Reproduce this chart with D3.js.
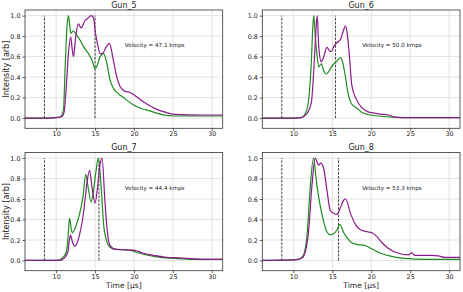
<!DOCTYPE html>
<html lang="en">
  <head>
    <meta charset="UTF-8">
    <script src="https://d3js.org/d3.v7.min.js"></script>
    <title>Gun intensity</title>
    <style>
      body { margin: 0; background: #fff; }
      svg { display: block; font-family: "DejaVu Sans", sans-serif; }
      .tick text { fill: #222; }
    </style>
  </head>
  <body>
    <svg id="chart" width="463" height="292"></svg>
    <script>
      // панели и подписи
      const guns = ["Gun_5", "Gun_6", "Gun_7", "Gun_8"];
      const velocities = ["47.1", "50.0", "44.4", "53.3"];
      const markers = [[8.5, 15.0], [8.5, 15.4], [8.5, 15.5], [8.5, 15.8]];
      const xTicks = [10, 15, 20, 25, 30];
      const yTicks = [0, 0.2, 0.4, 0.6, 0.8, 1.0];

      // [time, intensity]
      const gun5Green = [[6,0],[9,0],[10,0.005],[10.5,0.01],[10.94,0.08],[11.16,0.5],[11.4,0.9],[11.58,1.0],[11.75,0.9],[11.88,0.83],[12.2,0.85],[12.55,0.82],[13.08,0.76],[13.5,0.7],[14.15,0.63],[14.58,0.57],[15.0,0.486],[15.2,0.5],[15.65,0.6],[16.1,0.63],[16.5,0.54],[16.93,0.37],[17.36,0.29],[17.8,0.25],[18.65,0.2],[19.9,0.13],[21.2,0.086],[22.05,0.07],[23.0,0.045],[25.2,0.02],[28,0.02],[31.4,0.02]];
      const gun5Purple = [[6,0],[9,0],[10,0.005],[10.6,0.01],[11.0,0.05],[11.3,0.3],[11.6,0.65],[11.88,0.79],[12.05,0.68],[12.23,0.6],[12.5,0.78],[12.83,0.92],[13.21,0.88],[13.7,0.95],[14.15,0.98],[14.5,1.0],[14.8,0.98],[15.0,0.86],[15.3,0.73],[15.65,0.63],[15.95,0.63],[16.4,0.69],[16.85,0.73],[17.36,0.56],[17.8,0.4],[18.2,0.31],[18.85,0.26],[19.5,0.25],[20.3,0.21],[21.2,0.16],[22.05,0.12],[22.8,0.09],[23.9,0.06],[25.2,0.035],[28.6,0.03],[31.4,0.03]];
      const gun6Green = [[6,0],[10,0],[11,0.005],[11.5,0.04],[11.85,0.12],[12.1,0.3],[12.3,0.55],[12.5,0.9],[12.62,1.0],[12.8,0.8],[13.05,0.6],[13.25,0.5],[13.57,0.53],[13.85,0.47],[14.2,0.43],[14.5,0.45],[14.87,0.5],[15.5,0.55],[16.06,0.59],[16.3,0.55],[16.6,0.44],[17.0,0.25],[17.45,0.14],[18.1,0.1],[18.7,0.06],[19.6,0.035],[20.9,0.02],[22.6,0.01],[25,0.005],[31.4,0.005]];
      const gun6Purple = [[6,0],[10,0],[11,0.005],[11.7,0.04],[12.3,0.15],[12.6,0.45],[12.85,0.8],[13.05,1.0],[13.25,0.7],[13.57,0.55],[13.9,0.6],[14.3,0.69],[14.6,0.66],[14.87,0.65],[15.2,0.7],[15.5,0.73],[16.06,0.77],[16.4,0.85],[16.7,0.9],[16.95,0.8],[17.2,0.6],[17.5,0.32],[18.1,0.18],[18.7,0.11],[19.6,0.06],[20.2,0.05],[20.9,0.04],[22.2,0.03],[23.0,0.01],[25,0.005],[31.4,0.005]];
      const gun7Green = [[6,0],[10.2,0],[10.86,0.03],[11.3,0.08],[11.5,0.2],[11.72,0.41],[11.9,0.33],[12.07,0.27],[12.6,0.35],[13.0,0.45],[13.45,0.62],[13.8,0.84],[14.1,0.72],[14.5,0.57],[14.8,0.68],[15.1,0.86],[15.43,1.0],[15.8,0.7],[16.1,0.35],[16.45,0.2],[16.9,0.13],[17.5,0.11],[18.6,0.105],[19.5,0.1],[20.3,0.08],[21.6,0.055],[23.4,0.03],[25.1,0.02],[27.7,0.01],[31.4,0.01]];
      const gun7Purple = [[6,0],[10.3,0],[11.0,0.02],[11.5,0.08],[11.7,0.2],[11.85,0.25],[12.05,0.19],[12.4,0.14],[12.7,0.17],[13.0,0.25],[13.4,0.4],[13.7,0.58],[14.0,0.78],[14.3,0.88],[14.6,0.72],[15.0,0.56],[15.3,0.7],[15.6,0.92],[15.9,1.0],[16.25,0.6],[16.55,0.3],[16.9,0.15],[17.5,0.11],[18.6,0.105],[19.9,0.1],[20.3,0.095],[21.2,0.07],[22.5,0.05],[24.2,0.03],[25.9,0.025],[27.7,0.015],[29.8,0.01],[31.4,0.01]];
      const gun8Green = [[6,0],[10,0.005],[10.6,0.01],[11.2,0.04],[11.73,0.23],[12.16,0.72],[12.58,1.0],[13.0,0.74],[13.45,0.53],[13.88,0.38],[14.3,0.28],[14.73,0.25],[15.16,0.26],[15.6,0.3],[15.95,0.35],[16.47,0.27],[16.9,0.22],[17.55,0.17],[18.2,0.155],[19.05,0.15],[19.9,0.12],[21.2,0.07],[22.6,0.04],[24.3,0.02],[27,0.01],[31.4,0.01]];
      const gun8Purple = [[6,0],[10,0.005],[10.6,0.01],[11.2,0.03],[11.9,0.25],[12.4,0.75],[12.8,1.0],[13.23,0.93],[13.5,0.95],[13.88,0.9],[14.3,0.69],[14.73,0.49],[15.16,0.46],[15.6,0.45],[15.95,0.5],[16.47,0.59],[16.7,0.6],[17.33,0.46],[17.98,0.35],[18.6,0.3],[19.5,0.28],[20.1,0.27],[20.75,0.23],[21.3,0.18],[22.17,0.12],[23.5,0.07],[24.75,0.055],[25.2,0.075],[25.6,0.05],[27.8,0.05],[28.6,0.045],[29.5,0.03],[31.4,0.03]];

      const greens = [gun5Green, gun6Green, gun7Green, gun8Green];
      const purples = [gun5Purple, gun6Purple, gun7Purple, gun8Purple];

      const svg = d3.select("#chart");
      const cols = [[25, 222.7], [262.3, 460]];
      const rows = [[10, 128.3], [152.4, 270.7]];

      const drawPanel = (i) => {
        const [x0, x1] = cols[i % 2];
        const [y0, y1] = rows[Math.floor(i / 2)];
        const x = d3.scaleLinear().domain([6, 31.4]).range([x0, x1]);
        const y = d3.scaleLinear().domain([-0.1, 1.055]).range([y1, y0]);

        const g = svg.append("g");

        // сетка
        g.selectAll(".gx").data(xTicks).enter().append("line")
          .attr("x1", d => x(d)).attr("x2", d => x(d))
          .attr("y1", y0).attr("y2", y1)
          .attr("stroke", "#dcdcdc").attr("stroke-width", 0.8);
        g.selectAll(".gy").data(yTicks).enter().append("line")
          .attr("x1", x0).attr("x2", x1)
          .attr("y1", d => y(d)).attr("y2", d => y(d))
          .attr("stroke", "#dcdcdc").attr("stroke-width", 0.8);

        const clipId = "clip" + i;
        g.append("clipPath").attr("id", clipId).append("rect")
          .attr("x", x0).attr("y", y0).attr("width", x1 - x0).attr("height", y1 - y0);

        const line = d3.line()
          .x(d => x(d[0])).y(d => y(d[1]))
          .curve(d3.curveMonotoneX);

        // пунктирные маркеры
        g.selectAll(".mk").data(markers[i]).enter().append("line")
          .attr("x1", d => x(d)).attr("x2", d => x(d))
          .attr("y1", y(0)).attr("y2", y(1))
          .attr("stroke", "#111").attr("stroke-width", 0.8)
          .attr("stroke-dasharray", "2.6,1.3");

        g.append("path").datum(greens[i])
          .attr("clip-path", `url(#${clipId})`)
          .attr("d", line).attr("fill", "none")
          .attr("stroke", "#1f8c1f").attr("stroke-width", 1.2);
        g.append("path").datum(purples[i])
          .attr("clip-path", `url(#${clipId})`)
          .attr("d", line).attr("fill", "none")
          .attr("stroke", "#8b1a8b").attr("stroke-width", 1.2);

        // оси
        const xAxis = g.append("g").attr("transform", `translate(0,${y1})`)
          .call(d3.axisBottom(x).tickValues(xTicks).tickFormat(d3.format("d")).tickSize(2.5).tickPadding(0.8));
        const yAxis = g.append("g").attr("transform", `translate(${x0},0)`)
          .call(d3.axisLeft(y).tickValues(yTicks).tickFormat(d3.format(".1f")).tickSize(2.5).tickPadding(2));
        [xAxis, yAxis].forEach(a => {
          a.select(".domain").remove();
          a.selectAll(".tick line").attr("stroke", "#333").attr("stroke-width", 0.8);
          a.selectAll(".tick text").attr("font-size", 6.4).attr("font-family", "DejaVu Sans");
        });

        g.append("rect")
          .attr("x", x0).attr("y", y0).attr("width", x1 - x0).attr("height", y1 - y0)
          .attr("fill", "none").attr("stroke", "#333").attr("stroke-width", 0.8);

        g.append("text")
          .attr("x", (x0 + x1) / 2).attr("y", y0 - 2.5)
          .attr("text-anchor", "middle").attr("font-size", 8).attr("fill", "#222")
          .text(guns[i]);

        g.append("text")
          .attr("x", x0 + 0.505 * (x1 - x0)).attr("y", y1 - 0.7 * (y1 - y0) + 2)
          .attr("font-size", 5.6).attr("fill", "#222")
          .text(`Velocity = ${velocities[i]} kmps`);

        if (i % 2 === 0) {
          g.append("text")
            .attr("transform", `translate(9,${(y0 + y1) / 2}) rotate(-90)`)
            .attr("text-anchor", "middle").attr("font-size", 8).attr("fill", "#222")
            .text("Intensity [arb]");
        }
        if (i >= 2) {
          g.append("text")
            .attr("x", (x0 + x1) / 2).attr("y", y1 + 16.8)
            .attr("text-anchor", "middle").attr("font-size", 7.6).attr("fill", "#222")
            .text("Time [μs]");
        }
      };

      guns.forEach((d, i) => drawPanel(i));
    </script>
  </body>
</html>
